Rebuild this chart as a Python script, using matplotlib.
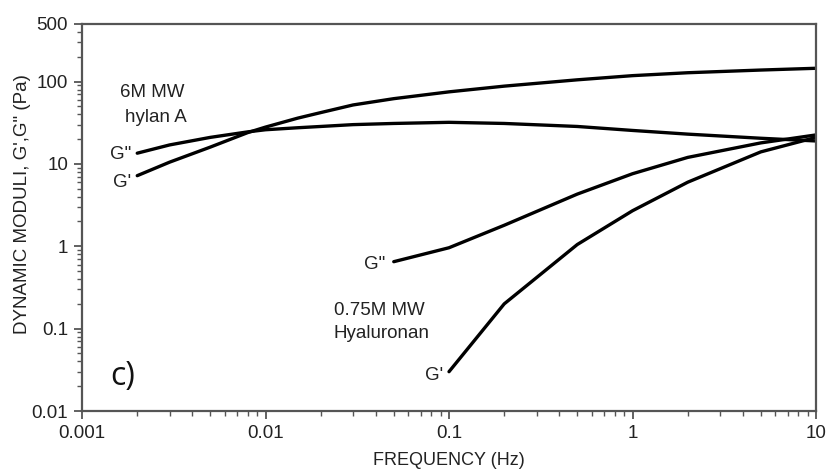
import matplotlib
matplotlib.use("Agg")
import matplotlib.pyplot as plt
from matplotlib.ticker import FixedLocator, LogLocator, NullFormatter, FixedFormatter

plt.rcParams['font.family'] = ['Liberation Sans', 'DejaVu Sans']

# 6M MW hylan A
freq_hylan = [0.002, 0.003, 0.005, 0.008, 0.01, 0.015, 0.02, 0.03, 0.05, 0.1, 0.2, 0.5, 1, 2, 5, 10]
g1_hylan = [7.2, 10.5, 16, 24, 28, 36, 42, 52, 62, 75, 88, 105, 118, 128, 138, 145]
g2_hylan = [13.5, 17, 21, 24.5, 26, 27.5, 28.5, 30, 31, 32, 31, 28.5, 25.5, 23, 20.5, 19]

# 0.75M MW Hyaluronan
freq_g2_hya = [0.05, 0.1, 0.2, 0.5, 1, 2, 5, 10]
g2_hya = [0.65, 0.96, 1.8, 4.3, 7.6, 12, 18, 22.5]
freq_g1_hya = [0.1, 0.2, 0.5, 1, 2, 5, 10]
g1_hya = [0.03, 0.2, 1.05, 2.7, 6.0, 14, 21]

y_ticks = [0.01, 0.1, 1, 10, 100, 500]
y_labels = ["0.01", "0.1", "1", "10", "100", "500"]
x_ticks = [0.001, 0.01, 0.1, 1, 10]
x_labels = ["0.001", "0.01", "0.1", "1", "10"]

fig = plt.figure(figsize=(8.3, 4.69), dpi=100)
ax = fig.add_axes([82 / 830, 58 / 469, 734 / 830, 387 / 469])

lw = 2.4
ax.plot(freq_hylan, g1_hylan, color='black', lw=lw, solid_capstyle='round')
ax.plot(freq_hylan, g2_hylan, color='black', lw=lw, solid_capstyle='round')
ax.plot(freq_g2_hya, g2_hya, color='black', lw=lw, solid_capstyle='round')
ax.plot(freq_g1_hya, g1_hya, color='black', lw=lw, solid_capstyle='round')

ax.set_xscale('log')
ax.set_yscale('log')
ax.set_xlim(0.001, 10)
ax.set_ylim(0.01, 500)

ax.xaxis.set_major_locator(FixedLocator(x_ticks))
ax.xaxis.set_major_formatter(FixedFormatter(x_labels))
ax.xaxis.set_minor_locator(LogLocator(base=10, subs=range(2, 10)))
ax.xaxis.set_minor_formatter(NullFormatter())
ax.yaxis.set_major_locator(FixedLocator(y_ticks))
ax.yaxis.set_major_formatter(FixedFormatter(y_labels))
ax.yaxis.set_minor_locator(LogLocator(base=10, subs=range(2, 10)))
ax.yaxis.set_minor_formatter(NullFormatter())

spine_col = '#555555'
for s in ax.spines.values():
    s.set_color(spine_col)
    s.set_linewidth(1.6)
ax.tick_params(which='major', direction='out', length=6, width=1.3, color=spine_col,
               labelsize=13.5, labelcolor='#222222', pad=4)
ax.tick_params(which='minor', direction='out', length=3.5, width=1.0, color=spine_col)

ax.set_xlabel('FREQUENCY (Hz)', fontsize=13, color='#222222', labelpad=7)
ax.set_ylabel('DYNAMIC MODULI, G\',G" (Pa)', fontsize=13.5, color='#222222')
ax.yaxis.set_label_coords(-0.069, 0.535)

tc = '#222222'
fs = 13.5
ax.text(0.00161, 74, '6M MW', fontsize=fs, color=tc, ha='left', va='center')
ax.text(0.00172, 37, 'hylan A', fontsize=fs, color=tc, ha='left', va='center')
ax.text(0.00185, 13, 'G"', fontsize=fs, color=tc, ha='right', va='center')
ax.text(0.00185, 6.0, "G'", fontsize=fs, color=tc, ha='right', va='center')
ax.text(0.045, 0.6, 'G"', fontsize=fs, color=tc, ha='right', va='center')
ax.text(0.0235, 0.168, '0.75M MW', fontsize=fs, color=tc, ha='left', va='center')
ax.text(0.0235, 0.088, 'Hyaluronan', fontsize=fs, color=tc, ha='left', va='center')
ax.text(0.093, 0.027, "G'", fontsize=fs, color=tc, ha='right', va='center')
ax.text(0.00142, 0.026, 'c)', fontsize=23, color='#111111', ha='left', va='center',
        family=['Open Sans', 'DejaVu Sans'])

fig.savefig('out.png', dpi=100)
